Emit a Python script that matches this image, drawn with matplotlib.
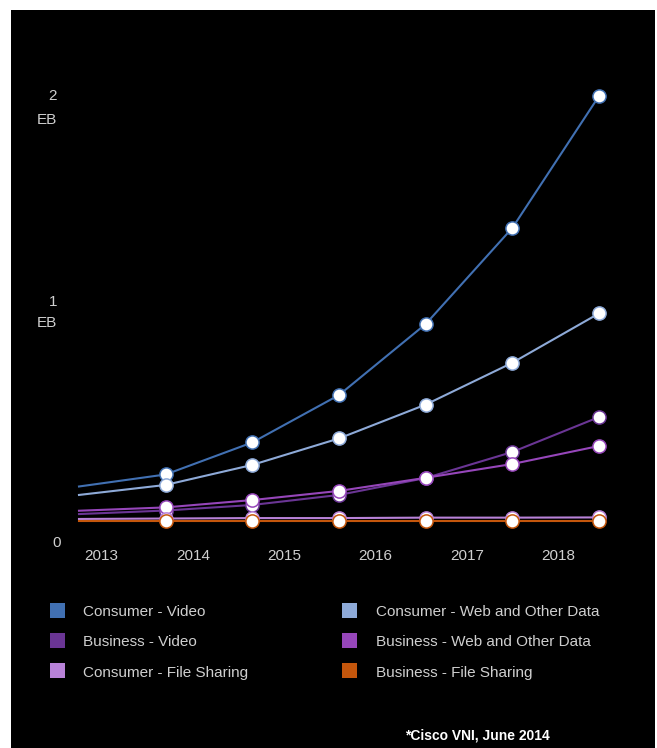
import matplotlib
matplotlib.use("Agg")
import matplotlib.pyplot as plt
import numpy as np
from matplotlib.patches import Rectangle

plt.rcParams['font.family'] = ['Liberation Sans', 'DejaVu Sans']

# ---- data ----
years = ["2013", "2014", "2015", "2016", "2017", "2018"]
series_names = ["Consumer - Video", "Consumer - Web and Other Data",
                "Business - Video", "Business - Web and Other Data",
                "Consumer - File Sharing", "Business - File Sharing"]
consumer_video = [0.245, 0.299, 0.443, 0.656, 0.975, 1.407, 2.000]
consumer_web = [0.207, 0.252, 0.342, 0.461, 0.613, 0.801, 1.023]
business_video = [0.121, 0.137, 0.162, 0.207, 0.283, 0.400, 0.557]
business_web = [0.136, 0.151, 0.184, 0.225, 0.284, 0.346, 0.427]
consumer_file = [0.099, 0.101, 0.103, 0.103, 0.105, 0.105, 0.106]
business_file = [0.090, 0.090, 0.090, 0.090, 0.090, 0.090, 0.090]
colors = ["#4170b2", "#8eaad8", "#6a3594", "#9646ba", "#b882d8", "#c4560c"]
y_labels = ["0", "1", "2"]

W, H = 657, 748
fig = plt.figure(figsize=(W / 100, H / 100), dpi=100)
fig.patch.set_facecolor("white")
# black panel
fig.patches.append(Rectangle((11 / W, 0), (655 - 11) / W, (H - 10) / H,
                             transform=fig.transFigure, facecolor="black",
                             edgecolor="none", zorder=-5))

x0, x1, y0, y1 = 79, 599, 541, 96
ax = fig.add_axes([x0 / W, (H - y0) / H, (x1 - x0) / W, (y0 - y1) / H])
ax.set_zorder(2)
ax.set_facecolor("none")
ax.set_xlim(0, 6)
ax.set_ylim(0, 2)
for s in ax.spines.values():
    s.set_visible(False)
ax.tick_params(length=0)

all_series = [consumer_video, consumer_web, business_video, business_web,
              consumer_file, business_file]
xs = np.arange(len(consumer_video))
for vals, c in zip(all_series, colors):
    ax.plot(xs, vals, color=c, lw=1.5, marker="o", markevery=list(range(1, 7)),
            markersize=9.5, markerfacecolor="white", markeredgecolor=c,
            markeredgewidth=1.1, clip_on=False)

txtc = "#cfcfcf"
# x tick labels (positioned between markers as in original)
ax.set_xticks(np.linspace(0.26, 5.53, len(years)))
ax.set_xticklabels(years, color=txtc, fontsize=11)
ax.tick_params(axis="x", pad=6)
ax.set_yticks([])

# y labels
def fy(py):
    return (H - py) / H
for lab, py in zip(y_labels, [543, 301.5, 96.5]):
    fig.text(57 / W if lab != "0" else 61 / W, fy(py), lab, color=txtc,
             fontsize=11, ha="right", va="center")
for py in [323, 119.5]:
    fig.text(57.5 / W, fy(py), "EB", color=txtc, fontsize=11,
             ha="right", va="center")

# legend
sq = 15
rows = [610, 640, 670.5]
cols = [(49.5, 83), (342, 376)]
for i, (name, c) in enumerate(zip(series_names, colors)):
    col = cols[i % 2]
    row = rows[i // 2]
    fig.patches.append(Rectangle((col[0] / W, fy(row + sq / 2)), sq / W, sq / H,
                                 transform=fig.transFigure, facecolor=c,
                                 edgecolor="none", zorder=2))
    fig.text(col[1] / W, fy(row + 2), name, color=txtc, fontsize=11,
             ha="left", va="center")

fig.text(477 / W, fy(736), "*Cisco VNI, June 2014", color="white",
         fontsize=10, fontweight="bold", ha="center", va="center")

fig.savefig("out.png", dpi=100, facecolor=fig.get_facecolor())
